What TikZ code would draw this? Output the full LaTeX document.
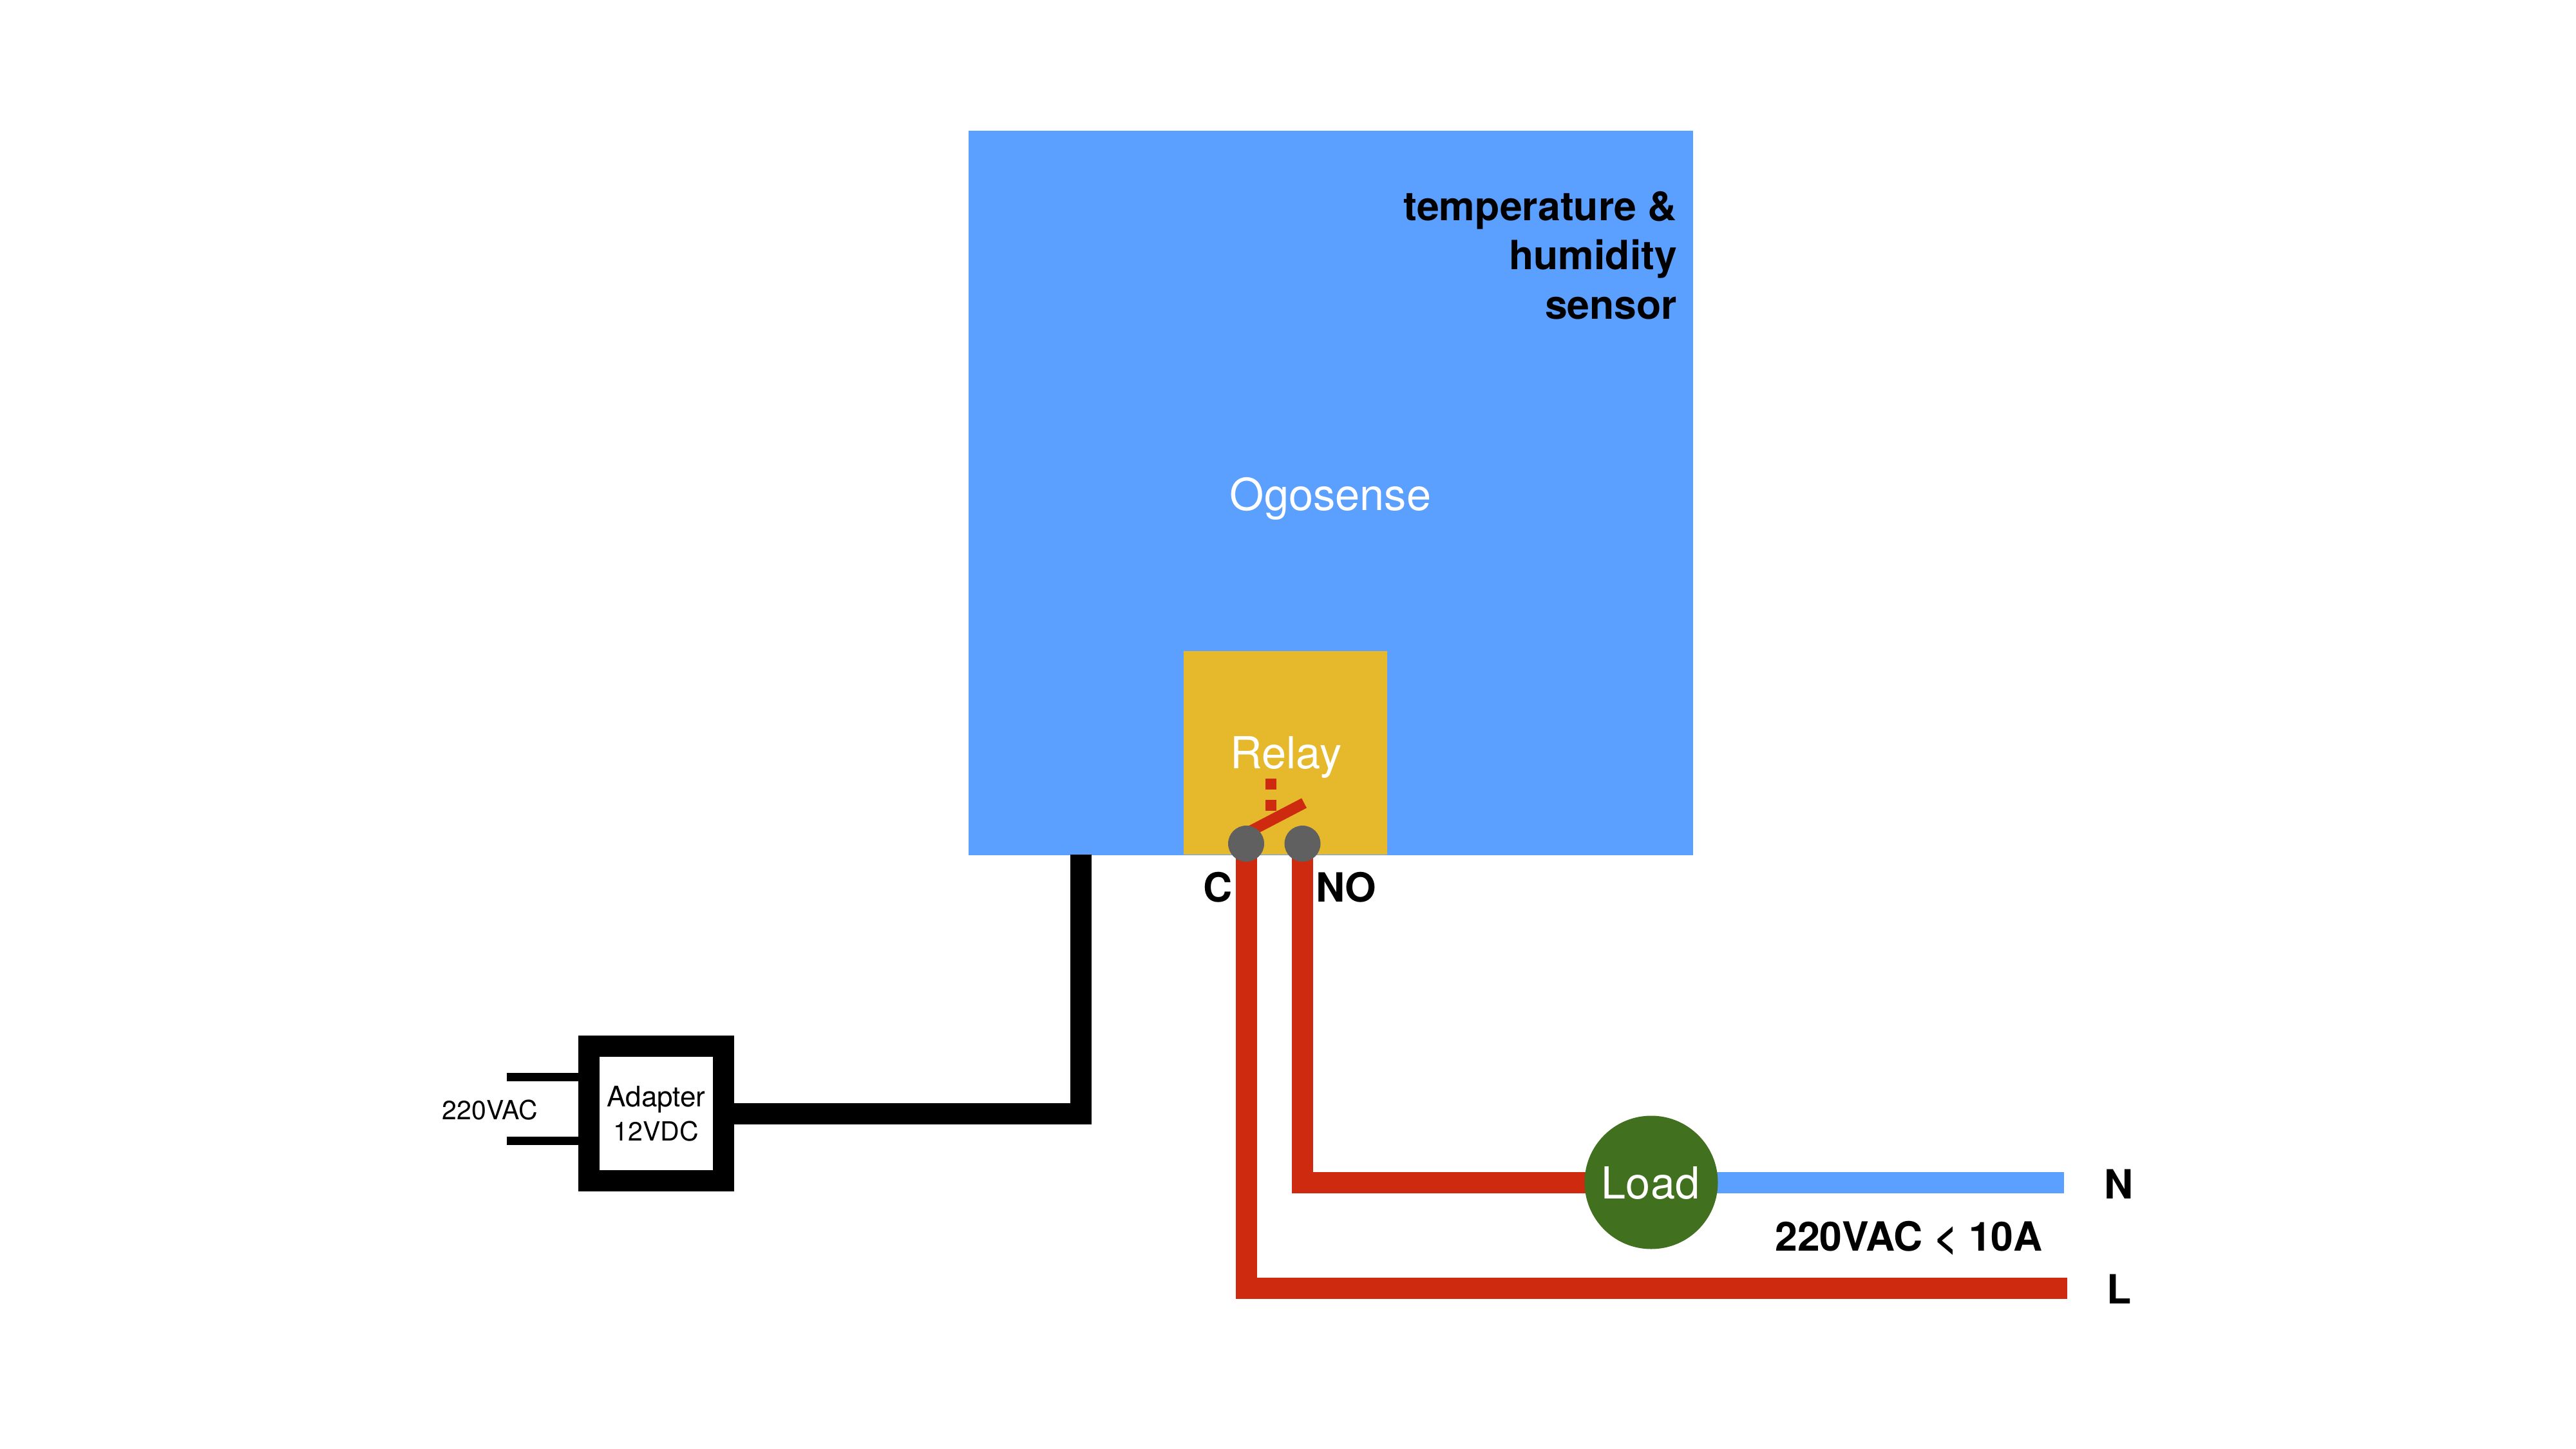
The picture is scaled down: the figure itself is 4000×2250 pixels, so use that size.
\documentclass[tikz,border=0pt]{standalone}
\usepackage{fontspec}
\setmainfont{TeX Gyre Heros}
\usetikzlibrary{shapes}
\definecolor{ogoblue}{HTML}{5B9FFF}
\definecolor{relayyellow}{HTML}{E6B92C}
\definecolor{livered}{HTML}{CD2A10}
\definecolor{loadgreen}{HTML}{41701E}
\definecolor{pingray}{HTML}{606060}
\tikzstyle{block} = [rectangle, inner sep=0, outer sep=0]
\tikzstyle{ensemble} = [circle, inner sep=0, outer sep=0]
\tikzstyle{terminal} = [ensemble, fill=pingray, minimum size=56pt]
\tikzstyle{wire} = [line width=33pt, miter limit=10]
\tikzstyle{label} = [inner sep=0, outer sep=0]
\tikzstyle{big} = [label, text=white, font=\fontsize{68.5}{80}\selectfont]
\tikzstyle{bold} = [label, font=\fontsize{62.5}{76.5}\selectfont\bfseries]
\tikzstyle{small} = [label, font=\fontsize{41}{53}\selectfont]

\begin{document}
\begin{tikzpicture}[x=1pt, y=-1pt]
    \useasboundingbox (0,0) rectangle (4000,2250);
    \coordinate (pc) at (1935,1310);
    \coordinate (pno) at (2022.5,1310);
    \coordinate (pload) at (2564,1836);
    \coordinate (n) at (3205,1836);
    \coordinate (l) at (3210,2000);
    \coordinate (armstart) at (1935,1294);
    \coordinate (armend) at (2025,1247);
    \coordinate (coil) at (1973,1209);
    \coordinate (coilend) at (1973,1259);
    \coordinate (power) at (1678.5,1327);
    \coordinate (prongtop) at (787,1672);
    \coordinate (prongbottom) at (787,1771);
    \node [block, fill=ogoblue, minimum width=1125pt, minimum height=1125pt] (ogosense) at (2066,765.5) {};
    \node [block, fill=relayyellow, minimum width=316pt, minimum height=316pt] (relay) at (1996,1169) {};
    \node [block, draw, fill=white, line width=33pt, minimum width=209pt, minimum height=209pt, outer sep=16.5pt, font=\fontsize{41}{53}\selectfont, align=center] (adapter) at (1019,1729) {{\fontsize{44}{53}\selectfont Adapter}\\12VDC};
    \node [big, anchor=base] (ogoname) at (2066,792) {Ogosense};
    \node [big, anchor=base] (relayname) at (1997,1193) {Relay};
    \node [bold, anchor=base east, align=right] (sensor) at (2604,495) {temperature \&\\humidity\\sensor};
    \draw [line width=13pt] (prongtop) -- (prongtop -| adapter.west);
    \draw [line width=13pt] (prongbottom) -- (prongbottom -| adapter.west);
    \draw [wire] (adapter.east) -| (power);
    \draw [wire, ogoblue] (pload) -- (n);
    \draw [wire, livered] (pno) |- (pload);
    \draw [wire, livered] (pc) |- (l);
    \draw [livered, line width=17pt] (armstart) -- (armend);
    \draw [livered, line width=17pt, dash pattern=on 17pt off 16pt] (coil) -- (coilend);
    \node [terminal] (c) at (pc) {};
    \node [terminal] (no) at (pno) {};
    \node [ensemble, fill=loadgreen, minimum size=207pt] (load) at (pload) {};
    \node [big, anchor=base] (loadname) at (2563,1861) {Load};
    \node [bold, anchor=base east] (cname) at (1914,1400) {C};
    \node [bold, anchor=base west] (noname) at (2043,1400) {NO};
    \node [bold, anchor=base west] (nname) at (3267,1861) {N};
    \node [bold, anchor=base west] (lname) at (3271,2024) {L};
    \node [bold, anchor=base] (rating) at (2964,1942) {220VAC < 10A};
    \node [small, anchor=base east] (mains) at (835,1738) {220VAC};
\end{tikzpicture}
\end{document}
